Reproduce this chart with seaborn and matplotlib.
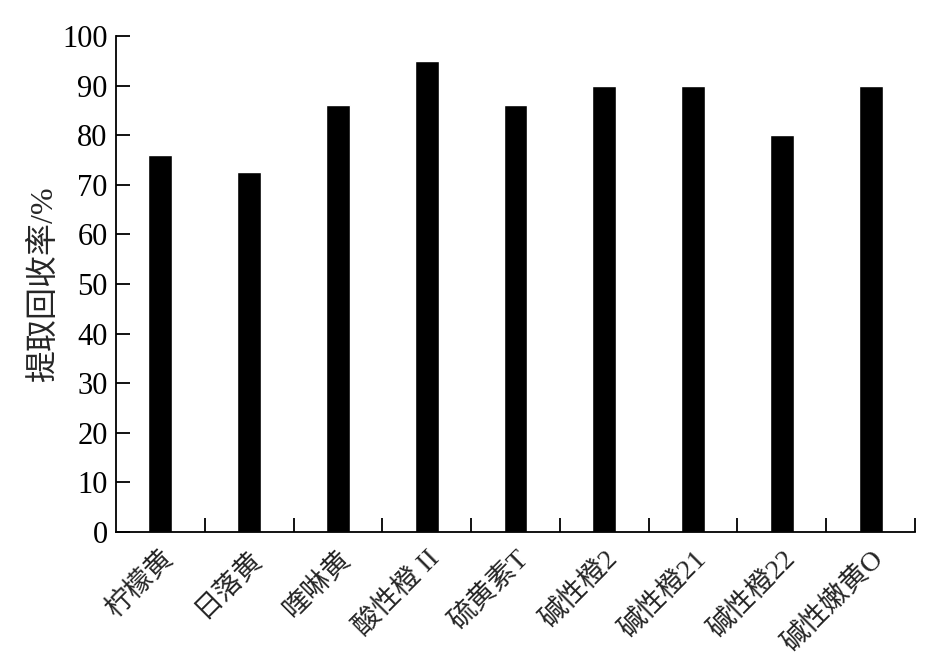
import matplotlib.pyplot as plt
import seaborn as sns
import pandas as pd
import numpy as np
from matplotlib.ticker import FixedLocator

dyes = ['柠檬黄', '日落黄', '喹啉黄', '酸性橙 II', '硫黄素T', '碱性橙2', '碱性橙21', '碱性橙22', '碱性嫩黄O']
recovery = [76, 72.5, 86, 95, 86, 90, 90, 80, 90]

sns.set_style('ticks')
plt.rcParams['font.family'] = ['Liberation Serif', 'Noto Sans CJK SC', 'DejaVu Sans']

df = pd.DataFrame({'dye': dyes, 'recovery': recovery})

fig = plt.figure(figsize=(9.39, 6.63), dpi=100)
ax = fig.add_axes([0.1235, 0.1976, 0.851, 0.748])
sns.barplot(data=df, x='dye', y='recovery', color='black', width=0.27,
            saturation=1, ax=ax)

ax.set_xlim(-0.5, len(dyes) - 0.5)
ax.set_ylim(0, 100)
ax.set_yticks(np.arange(0, 101, 10))
ax.set_xlabel('')
ax.set_ylabel('提取回收率/%', fontsize=23, labelpad=2)

ax.spines['top'].set_visible(False)
ax.spines['right'].set_visible(False)
for s in ['left', 'bottom']:
    ax.spines[s].set_linewidth(1.3)
    ax.spines[s].set_color('black')

ax.tick_params(axis='y', direction='in', length=10, width=1.3, labelsize=22, pad=6, colors='black')
ax.tick_params(axis='x', which='major', length=0, labelsize=20, pad=10)
ax.xaxis.set_minor_locator(FixedLocator(np.arange(0.5, len(dyes), 1.0)))
ax.tick_params(axis='x', which='minor', direction='in', length=10, width=1.3, color='black')
plt.setp(ax.get_xticklabels(), rotation=45, ha='right', rotation_mode='anchor')

fig.savefig('out.png', dpi=100)
